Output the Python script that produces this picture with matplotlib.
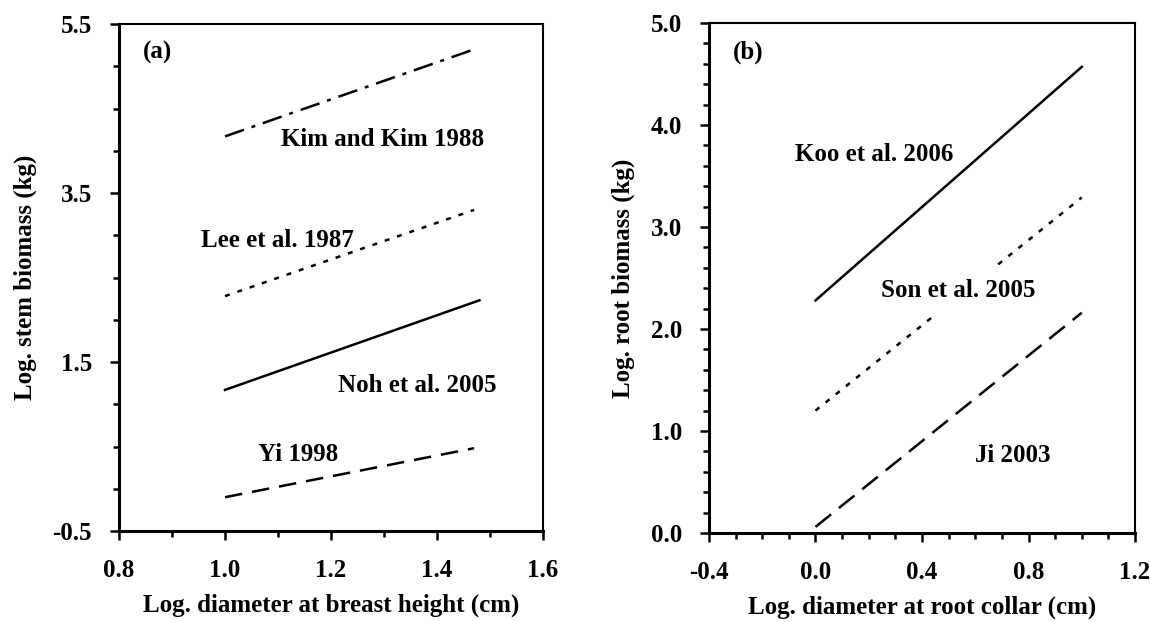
import matplotlib
matplotlib.use("Agg")
import matplotlib.pyplot as plt
from matplotlib.ticker import MultipleLocator, FixedLocator, FormatStrFormatter

# (a) stem biomass vs. log DBH
kim_x = [1.0, 1.47]
kim_y = [4.17, 5.20]
lee_x = [1.0, 1.47]
lee_y = [2.28, 3.30]
noh_x = [1.0, 1.48]
noh_y = [1.17, 2.23]
yi_x = [1.0, 1.47]
yi_y = [-0.10, 0.48]

# (b) root biomass vs. log root collar diameter
koo_x = [0.0, 1.0]
koo_y = [2.28, 4.57]
son_x = [0.0, 1.0]
son_y = [1.20, 3.29]
ji_x = [0.0, 1.0]
ji_y = [0.06, 2.16]

stem_yticks = [-0.5, 1.5, 3.5, 5.5]

plt.rcParams['font.family'] = ['Liberation Serif', 'DejaVu Serif']
plt.rcParams['font.weight'] = 'bold'
FS = 18

fig = plt.figure(figsize=(11.5, 6.22), dpi=100)
ax1 = fig.add_axes([0.1035, 0.1463, 0.3687, 0.8151])
ax2 = fig.add_axes([0.6165, 0.1431, 0.3705, 0.8199])


def style_axes(ax):
    for side in ['left', 'bottom']:
        ax.spines[side].set_linewidth(2.2)
    for side in ['top', 'right']:
        ax.spines[side].set_linewidth(1.5)
    ax.tick_params(which='major', direction='out', length=6.5, width=1.8,
                   labelsize=FS, top=False, right=False)
    ax.tick_params(axis='x', which='major', pad=14)
    ax.tick_params(axis='y', which='major', pad=13)
    ax.tick_params(which='minor', direction='out', length=4.5, width=1.8,
                   top=False, right=False)
    for lab in ax.get_xticklabels() + ax.get_yticklabels():
        lab.set_fontweight('bold')


lw = 1.8
ax1.plot(kim_x, kim_y, color='black', lw=lw, linestyle=(0, (8, 3.2, 1.6, 3.2)))
ax1.plot(lee_x, lee_y, color='black', lw=lw, linestyle=(0, (2, 3.2)))
ax1.plot(noh_x, noh_y, color='black', lw=lw, linestyle='-')
ax1.plot(yi_x, yi_y, color='black', lw=lw, linestyle=(0, (7, 4)))

ax1.set_xlim(0.8, 1.6)
ax1.set_ylim(-0.5, 5.5)
ax1.xaxis.set_major_locator(MultipleLocator(0.2))
ax1.xaxis.set_minor_locator(MultipleLocator(0.1))
ax1.yaxis.set_major_locator(FixedLocator(stem_yticks))
ax1.yaxis.set_minor_locator(MultipleLocator(0.5))
ax1.xaxis.set_major_formatter(FormatStrFormatter('%.1f'))
ax1.yaxis.set_major_formatter(FormatStrFormatter('%.1f'))
style_axes(ax1)
ax1.set_xlabel('Log. diameter at breast height (cm)', fontsize=FS, fontweight='bold', labelpad=8)
ax1.set_ylabel('Log. stem biomass (kg)', fontsize=FS, fontweight='bold', labelpad=11)

ax1.text(0.872, 5.16, '(a)', fontsize=FS, ha='center', va='center')
ax1.text(1.298, 4.13, 'Kim and Kim 1988', fontsize=FS, ha='center', va='center')
ax1.text(1.098, 2.94, 'Lee et al. 1987', fontsize=FS, ha='center', va='center')
ax1.text(1.362, 1.22, 'Noh et al. 2005', fontsize=FS, ha='center', va='center')
ax1.text(1.138, 0.41, 'Yi 1998', fontsize=FS, ha='center', va='center')

ax2.plot(koo_x, koo_y, color='black', lw=lw, linestyle='-')
ax2.plot(son_x, son_y, color='black', lw=lw, linestyle=(0, (2, 3.2)))
ax2.plot(ji_x, ji_y, color='black', lw=lw, linestyle=(0, (8, 4)))

ax2.set_xlim(-0.4, 1.2)
ax2.set_ylim(0.0, 5.0)
ax2.xaxis.set_major_locator(MultipleLocator(0.4))
ax2.xaxis.set_minor_locator(MultipleLocator(0.1))
ax2.yaxis.set_major_locator(MultipleLocator(1.0))
ax2.yaxis.set_minor_locator(MultipleLocator(0.2))
ax2.xaxis.set_major_formatter(FormatStrFormatter('%.1f'))
ax2.yaxis.set_major_formatter(FormatStrFormatter('%.1f'))
style_axes(ax2)
ax2.set_xlabel('Log. diameter at root collar (cm)', fontsize=FS, fontweight='bold', labelpad=8)
ax2.set_ylabel('Log. root biomass (kg)', fontsize=FS, fontweight='bold', labelpad=11)

ax2.text(-0.253, 4.71, '(b)', fontsize=FS, ha='center', va='center')
ax2.text(0.22, 3.71, 'Koo et al. 2006', fontsize=FS, ha='center', va='center')
ax2.text(0.536, 2.38, 'Son et al. 2005', fontsize=FS, ha='center', va='center',
         bbox=dict(facecolor='white', edgecolor='none', pad=10), zorder=5)
ax2.text(0.739, 0.76, 'Ji 2003', fontsize=FS, ha='center', va='center')

fig.savefig('out.png', dpi=100)
